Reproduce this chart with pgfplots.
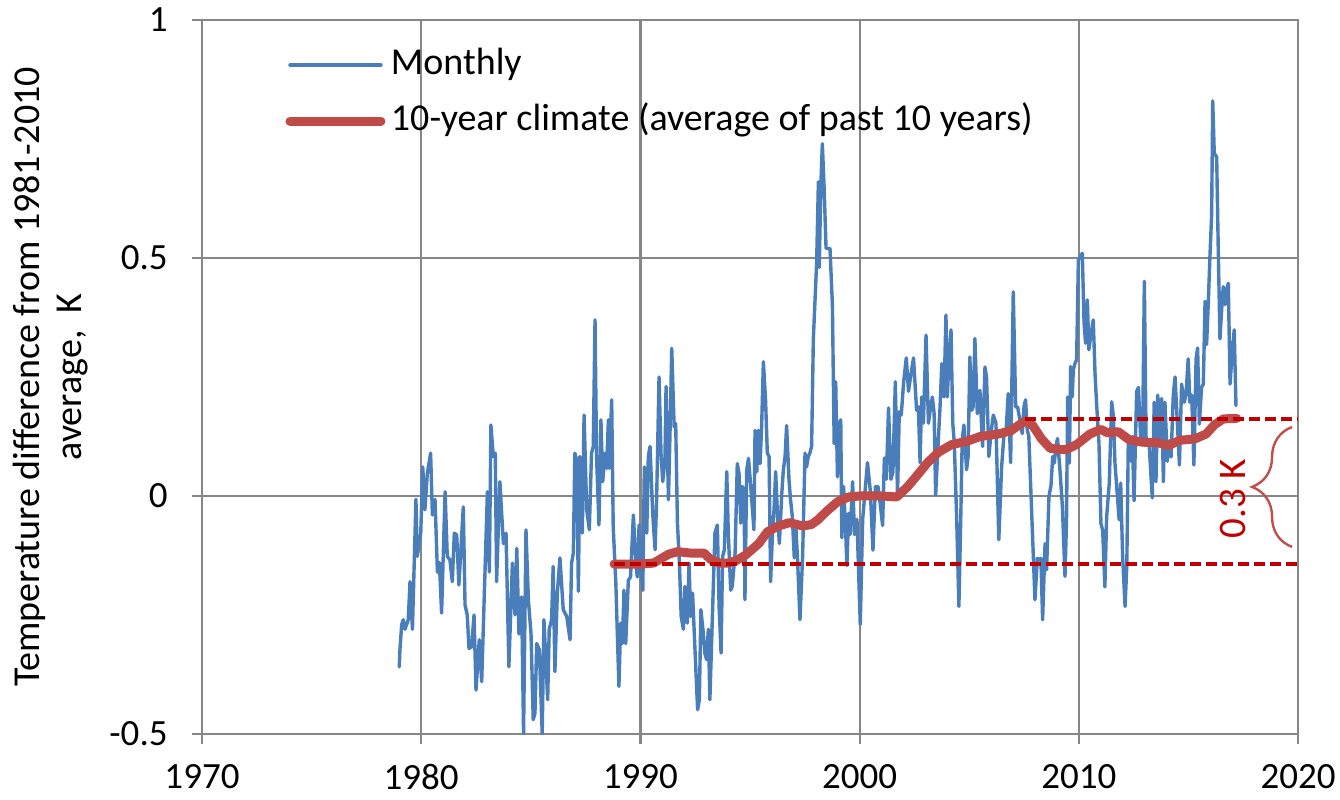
\documentclass[border=0pt]{standalone}
\usepackage{fontspec}
\setmainfont{Carlito}
\usepackage{pgfplots}
\pgfplotsset{compat=1.18}
\usetikzlibrary{calc,decorations.pathreplacing}
\definecolor{blueline}{HTML}{4A7EBB}
\definecolor{redline}{HTML}{BE4B48}
\definecolor{darkred}{HTML}{C00000}
\definecolor{bracered}{HTML}{C0504D}
\definecolor{gridgray}{HTML}{878787}
\begin{document}
\begin{tikzpicture}
\begin{axis}[
  name=ax,
  scale only axis,
  width=548pt, height=357pt,
  xmin=1970, xmax=2020, ymin=-0.5, ymax=1,
  clip=false,
  xtick={1970,1980,1990,2000,2010,2020},
  xticklabels={1970,1980,1990,2000,2010,2020},
  ytick={-0.5,0,0.5,1},
  yticklabels={-0.5,0,0.5,1},
  grid=major,
  major grid style={gridgray, line width=1.1pt},
  axis line style={gridgray, line width=1.1pt},
  tick style={gridgray, line width=1.1pt},
  tick align=outside,
  major tick length=5pt,
  xtick pos=left, ytick pos=left,
  tick label style={font=\fontsize{18.5}{22}\selectfont, text=black},
  yticklabel style={anchor=east, inner sep=0pt, xshift=-12pt},
  xticklabel style={anchor=north, inner sep=0pt, yshift=-10pt},
  ylabel={Temperature difference from 1981-2010\\average,\ \ K},
  ylabel style={font=\fontsize{19}{21}\selectfont, align=center, at={(rel axis cs:-0.1378,0.5)}, anchor=center},
  legend style={draw=none, fill=none, at={(rel axis cs:0.0717,0.964)}, anchor=north west,
    font=\fontsize{19}{21}\selectfont, row sep=9pt, inner sep=0pt,
    nodes={inner sep=1pt, text height=13pt, text depth=4pt},
    /tikz/every odd column/.append style={column sep=-0.5pt}},
  legend cell align=left,
  legend image code/.code={\path (0pt,0pt) (50pt,0pt); \draw[#1] (2.25pt,0pt) -- (47.75pt,0pt);},
]
\addplot[blueline, line width=1.7pt, line join=round, line cap=round] coordinates {
(1979.00,-0.359) (1979.03,-0.323) (1979.11,-0.27) (1979.18,-0.26) (1979.26,-0.28) (1979.41,-0.26)
(1979.49,-0.18) (1979.60,-0.28) (1979.76,-0.007) (1979.82,-0.127) (1979.98,-0.078) (1980.07,0.061)
(1980.17,-0.029) (1980.28,0.048) (1980.43,0.09) (1980.51,-0.04) (1980.63,-0.007) (1980.74,-0.16)
(1980.83,-0.14) (1980.93,-0.246) (1981.09,0.009) (1981.19,-0.127) (1981.31,-0.134) (1981.42,-0.18)
(1981.51,-0.078) (1981.62,-0.082) (1981.72,-0.187) (1981.92,-0.023) (1982.00,-0.229) (1982.10,-0.25)
(1982.18,-0.32) (1982.30,-0.317) (1982.41,-0.25) (1982.50,-0.408) (1982.65,-0.302) (1982.76,-0.39)
(1983.02,0.009) (1983.11,-0.16) (1983.18,0.149) (1983.29,0.083) (1983.38,0.09) (1983.44,-0.18)
(1983.59,0.03) (1983.75,-0.1) (1983.87,-0.078) (1984.00,-0.359) (1984.16,-0.141) (1984.28,-0.25)
(1984.36,-0.11) (1984.46,-0.29) (1984.58,-0.212) (1984.67,-0.499) (1984.78,-0.071) (1984.89,-0.218)
(1985.01,-0.29) (1985.11,-0.47) (1985.19,-0.457) (1985.27,-0.31) (1985.39,-0.323) (1985.52,-0.499)
(1985.60,-0.26) (1985.77,-0.428) (1985.84,-0.28) (1985.95,-0.26) (1986.02,-0.148) (1986.10,-0.369)
(1986.21,-0.204) (1986.33,-0.13) (1986.48,-0.239) (1986.64,-0.253) (1986.79,-0.302) (1986.86,-0.141)
(1986.94,-0.12) (1987.01,0.09) (1987.09,0.076) (1987.17,-0.2) (1987.24,0.083) (1987.35,-0.078)
(1987.43,0.17) (1987.55,-0.029) (1987.67,-0.071) (1987.77,0.09) (1987.85,0.104) (1987.93,0.37)
(1988.00,0.083) (1988.11,-0.061) (1988.20,0.16) (1988.28,0.03) (1988.39,0.09) (1988.46,0.058)
(1988.54,0.16) (1988.58,0.058) (1988.69,0.202) (1988.76,-0.065) (1988.88,-0.184) (1989.02,-0.4)
(1989.10,-0.267) (1989.18,-0.31) (1989.25,-0.198) (1989.33,-0.31) (1989.45,-0.177) (1989.55,-0.17)
(1989.68,-0.04) (1989.80,-0.148) (1989.86,-0.17) (1989.94,-0.061) (1990.01,-0.148) (1990.11,-0.198)
(1990.18,0.061) (1990.29,-0.078) (1990.36,0.083) (1990.44,0.104) (1990.56,-0.036) (1990.67,-0.113)
(1990.74,-0.008) (1990.85,0.25) (1990.94,0.09) (1991.02,0.03) (1991.12,0.076) (1991.17,0.23)
(1991.28,-0.008) (1991.35,0.131) (1991.43,0.31) (1991.54,0.145) (1991.61,0.152) (1991.69,-0.057)
(1991.78,-0.141) (1991.86,-0.253) (1991.96,-0.28) (1992.03,-0.19) (1992.14,-0.267) (1992.22,-0.141)
(1992.29,-0.253) (1992.38,-0.204) (1992.49,-0.323) (1992.61,-0.449) (1992.69,-0.428) (1992.76,-0.239)
(1992.87,-0.288) (1992.94,-0.33) (1993.02,-0.344) (1993.10,-0.28) (1993.17,-0.428) (1993.33,-0.184)
(1993.40,-0.078) (1993.51,-0.061) (1993.59,-0.232) (1993.68,-0.33) (1993.75,-0.127) (1993.83,-0.113)
(1993.94,0.051) (1994.01,-0.078) (1994.12,-0.198) (1994.19,-0.19) (1994.32,-0.12) (1994.42,0.068)
(1994.50,0.047) (1994.58,-0.057) (1994.65,0.02) (1994.73,0.013) (1994.77,-0.218) (1994.85,0.054)
(1994.93,0.079) (1995.00,0.04) (1995.08,-0.008) (1995.18,-0.071) (1995.23,0.138) (1995.31,0.051)
(1995.38,0.138) (1995.46,0.068) (1995.53,0.145) (1995.61,0.282) (1995.71,0.202) (1995.79,0.09)
(1995.87,0.083) (1995.94,-0.18) (1996.02,-0.085) (1996.10,-0.026) (1996.17,0.051) (1996.25,-0.036)
(1996.34,-0.1) (1996.45,0.005) (1996.52,0.054) (1996.60,0.083) (1996.67,0.148) (1996.78,0.033)
(1996.85,-0.008) (1996.93,-0.043) (1997.02,-0.13) (1997.10,-0.071) (1997.17,-0.134) (1997.28,-0.26)
(1997.40,-0.127) (1997.51,0.09) (1997.58,0.061) (1997.66,0.083) (1997.73,0.09) (1997.81,0.104)
(1997.89,0.33) (1998.04,0.49) (1998.12,0.66) (1998.16,0.48) (1998.23,0.65) (1998.30,0.74)
(1998.38,0.65) (1998.47,0.52) (1998.55,0.52) (1998.65,0.52) (1998.76,0.40) (1998.84,0.11)
(1998.91,0.24) (1998.99,0.04) (1999.07,0.15) (1999.14,0.16) (1999.19,-0.088) (1999.27,0.02)
(1999.37,-0.081) (1999.42,-0.146) (1999.50,-0.036) (1999.57,-0.081) (1999.68,0.03) (1999.77,-0.081)
(1999.88,-0.049) (2000.03,-0.27) (2000.14,-0.049) (2000.23,0.0) (2000.36,0.07) (2000.49,0.01)
(2000.61,-0.114) (2000.72,0.02) (2000.84,0.02) (2000.94,-0.016) (2001.05,-0.062) (2001.13,0.08)
(2001.22,0.035) (2001.32,0.185) (2001.43,0.035) (2001.52,0.05) (2001.63,0.24) (2001.73,0.0)
(2001.81,0.177) (2001.90,0.17) (2002.01,0.24) (2002.13,0.29) (2002.23,0.22) (2002.34,0.255)
(2002.46,0.29) (2002.60,0.18) (2002.68,0.187) (2002.76,0.07) (2002.83,0.208) (2002.91,0.153)
(2003.03,0.338) (2003.14,0.153) (2003.24,0.187) (2003.32,0.208) (2003.40,0.173) (2003.47,0.002)
(2003.56,0.09) (2003.67,0.187) (2003.75,0.278) (2003.85,0.208) (2003.94,0.38) (2004.00,0.208)
(2004.08,0.285) (2004.17,0.349) (2004.25,0.153) (2004.32,0.111) (2004.43,-0.05) (2004.53,-0.232)
(2004.62,-0.036) (2004.68,0.118) (2004.76,0.149) (2004.88,0.055) (2004.95,0.083) (2005.03,0.292)
(2005.11,0.18) (2005.18,0.187) (2005.26,0.331) (2005.37,0.173) (2005.49,0.222) (2005.61,0.104)
(2005.72,0.271) (2005.79,0.25) (2005.90,0.083) (2005.99,0.131) (2006.10,0.17) (2006.22,0.153)
(2006.35,-0.092) (2006.48,0.062) (2006.58,0.125) (2006.68,0.135) (2006.78,0.215) (2006.89,0.07)
(2007.01,0.429) (2007.12,0.187) (2007.21,0.187) (2007.31,0.16) (2007.42,0.131) (2007.50,0.188)
(2007.57,0.202) (2007.65,0.139) (2007.72,0.125) (2008.00,-0.218) (2008.11,-0.131) (2008.20,-0.134)
(2008.27,-0.131) (2008.35,-0.26) (2008.46,-0.1) (2008.53,-0.155) (2008.64,0.0) (2008.73,0.021)
(2008.81,0.083) (2008.88,0.069) (2008.96,0.104) (2009.03,0.121) (2009.14,0.055) (2009.25,-0.021)
(2009.37,-0.169) (2009.44,-0.05) (2009.49,0.208) (2009.57,0.069) (2009.63,0.272) (2009.70,0.208)
(2009.75,0.265) (2009.83,0.279) (2009.90,0.286) (2009.98,0.496) (2010.08,0.503) (2010.16,0.51)
(2010.24,0.363) (2010.31,0.321) (2010.39,0.412) (2010.46,0.307) (2010.54,0.335) (2010.66,0.37)
(2010.74,0.258) (2010.81,0.195) (2010.92,0.111) (2011.01,-0.058) (2011.09,-0.072) (2011.19,-0.191)
(2011.27,-0.044) (2011.39,0.027) (2011.50,0.198) (2011.58,0.167) (2011.65,0.069) (2011.76,0.0)
(2011.84,-0.05) (2011.91,0.027) (2012.00,-0.127) (2012.11,-0.232) (2012.19,-0.148) (2012.26,0.125)
(2012.38,0.073) (2012.44,0.125) (2012.52,-0.010) (2012.64,0.22) (2012.72,0.228) (2012.82,0.125)
(2012.91,0.116) (2012.99,0.451) (2013.07,0.116) (2013.20,0.116) (2013.35,-0.004) (2013.44,0.197)
(2013.52,0.030) (2013.60,0.212) (2013.70,0.116) (2013.78,0.205) (2013.86,0.03) (2013.93,0.197)
(2014.04,0.073) (2014.13,0.116) (2014.21,0.082) (2014.31,0.212) (2014.39,0.25) (2014.49,0.159)
(2014.59,0.065) (2014.69,0.235) (2014.81,0.197) (2014.89,0.212) (2014.99,0.288) (2015.07,0.197)
(2015.15,0.212) (2015.25,0.065) (2015.35,0.288) (2015.42,0.311) (2015.50,0.151) (2015.60,0.228)
(2015.68,0.235) (2015.76,0.409) (2015.83,0.318) (2015.91,0.409) (2015.98,0.5) (2016.06,0.591)
(2016.11,0.83) (2016.18,0.72) (2016.29,0.712) (2016.36,0.523) (2016.44,0.33) (2016.52,0.394)
(2016.59,0.44) (2016.67,0.402) (2016.74,0.432) (2016.82,0.447) (2016.90,0.235) (2017.00,0.303)
(2017.09,0.349) (2017.17,0.19)
};
\addlegendentry{Monthly}
\addplot[redline, line width=4.5pt, line cap=round, line join=round] coordinates {
(1988.8,-0.143) (1989.5,-0.143) (1990.0,-0.143) (1990.6,-0.141) (1991.0,-0.13) (1991.3,-0.122)
(1991.7,-0.117) (1992.3,-0.12) (1992.9,-0.12) (1993.2,-0.133) (1993.6,-0.141) (1994.0,-0.141)
(1994.4,-0.135) (1994.8,-0.124) (1995.1,-0.112) (1995.4,-0.1) (1995.8,-0.075) (1996.3,-0.063)
(1996.8,-0.056) (1997.4,-0.063) (1997.8,-0.06) (1998.1,-0.05) (1998.5,-0.032) (1999.0,-0.012)
(1999.5,-0.002) (2000.0,0.0) (2001.0,0.0) (2001.7,-0.002) (2002.2,0.02) (2002.6,0.042)
(2003.1,0.07) (2003.6,0.092) (2004.2,0.108) (2004.9,0.115) (2005.5,0.125) (2006.3,0.13)
(2006.9,0.137) (2007.3,0.15) (2007.6,0.158) (2007.9,0.148) (2008.3,0.12) (2008.7,0.1)
(2009.4,0.097) (2009.9,0.108) (2010.5,0.13) (2011.0,0.14) (2011.3,0.133) (2011.8,0.135)
(2012.3,0.118) (2012.9,0.113) (2013.6,0.112) (2014.1,0.106) (2014.6,0.117) (2015.3,0.12)
(2015.8,0.13) (2016.2,0.15) (2016.6,0.162) (2017.2,0.163)
};
\addlegendentry{10-year climate (average of past 10 years)}
\addplot[forget plot, darkred, line width=2pt, dash pattern=on 5.5pt off 2.5pt] coordinates {(1988.8,-0.143) (2020,-0.143)};
\addplot[forget plot, darkred, line width=2pt, dash pattern=on 5.5pt off 2.5pt] coordinates {(2007.55,0.161) (2020,0.161)};
\draw[bracered, line width=1.2pt, decorate, decoration={brace, amplitude=20pt}] (axis cs:2019.73,-0.107) -- (axis cs:2019.73,0.145);
\node[darkred, rotate=90, font=\fontsize{19.5}{22}\selectfont, inner sep=0pt] at (axis cs:2017.04,-0.006) {0.3 K};
\end{axis}
\pgfresetboundingbox
\path ($(ax.south west)+(-101pt,-33pt)$) rectangle ($(ax.north east)+(21pt,10pt)$);
\end{tikzpicture}
\end{document}
